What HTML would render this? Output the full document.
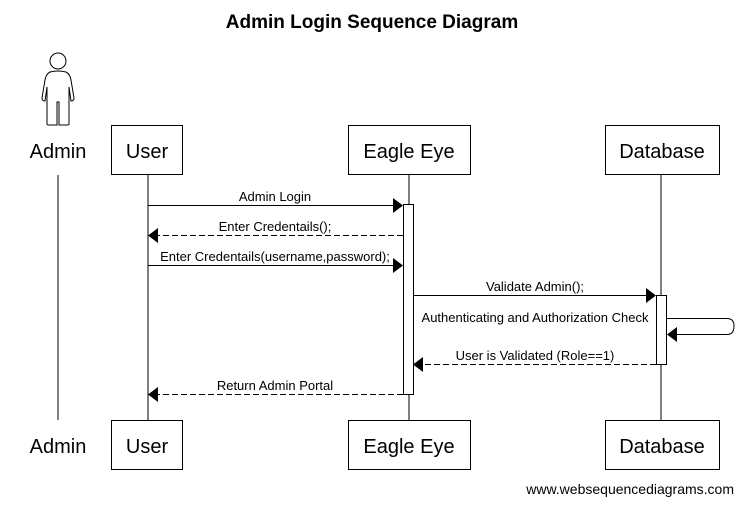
<!DOCTYPE html>
<html><head><style>body{margin:0;background:#fff}svg{display:block}</style></head><body>
<svg width="743" height="505" xmlns="http://www.w3.org/2000/svg" font-family="Liberation Sans, Arial, sans-serif">
<rect width="743" height="505" fill="#fff"/>
<text x="372" y="28" font-size="19" font-weight="bold" text-anchor="middle">Admin Login Sequence Diagram</text>
<g fill="none" stroke="#000" stroke-width="1">
<circle cx="58" cy="61" r="8"/>
<path d="M50 72 Q58 70 66 72 Q70 74 71 80 L74 98 Q74 101 71 101 L69 87 L69 124 Q69 125 67 125 L59 125 L59 102 L57 102 L57 125 L49 125 Q47 125 47 124 L47 87 L45 101 Q42 101 42 98 L45 80 Q46 74 50 72 Z"/>
<line x1="58" y1="175" x2="58" y2="420"/>
<line x1="148" y1="174" x2="148" y2="420"/>
<line x1="409" y1="174" x2="409" y2="420"/>
<line x1="661" y1="174" x2="661" y2="420"/>
<rect x="111.5" y="125.5" width="71" height="49"/>
<rect x="348.5" y="125.5" width="122" height="49"/>
<rect x="605.5" y="125.5" width="114" height="49"/>
<rect x="111.5" y="420.5" width="71" height="49"/>
<rect x="348.5" y="420.5" width="122" height="49"/>
<rect x="605.5" y="420.5" width="114" height="49"/>
<rect x="403.5" y="204.5" width="10" height="190" fill="#fff"/>
<rect x="656.5" y="295.5" width="10" height="69" fill="#fff"/>
<line x1="148" y1="205.5" x2="393" y2="205.5"/>
<line x1="403" y1="235.5" x2="158" y2="235.5" stroke-dasharray="6,3"/>
<line x1="148" y1="265.5" x2="393" y2="265.5"/>
<line x1="413" y1="295.5" x2="646" y2="295.5"/>
<path d="M667 318.5 L727 318.5 Q734 318.5 734 326 Q734 334.5 727 334.5 L676 334.5"/>
<line x1="656" y1="364.5" x2="423" y2="364.5" stroke-dasharray="6,3"/>
<line x1="403" y1="394.5" x2="158" y2="394.5" stroke-dasharray="6,3"/>
</g>
<g fill="#000">
<polygon points="393,198 403,205.5 393,213"/>
<polygon points="158,228 148,235.5 158,243"/>
<polygon points="393,258 403,265.5 393,273"/>
<polygon points="646,288 656,295.5 646,303"/>
<polygon points="677,327 667,334.5 677,342"/>
<polygon points="423,357 413,364.5 423,372"/>
<polygon points="158,387 148,394.5 158,402"/>
</g>
<g font-size="20" text-anchor="middle">
<text x="58" y="158">Admin</text><text x="147" y="158">User</text><text x="409" y="158">Eagle Eye</text><text x="662" y="158">Database</text>
<text x="58" y="453">Admin</text><text x="147" y="453">User</text><text x="409" y="453">Eagle Eye</text><text x="662" y="453">Database</text>
</g>
<g font-size="13" text-anchor="middle">
<text x="275" y="201">Admin Login</text>
<text x="275" y="231">Enter Credentails();</text>
<text x="275" y="261">Enter Credentails(username,password);</text>
<text x="535" y="291">Validate Admin();</text>
<text x="535" y="322">Authenticating and Authorization Check</text>
<text x="535" y="360">User is Validated (Role==1)</text>
<text x="275" y="390">Return Admin Portal</text>
<text x="734" y="494" font-size="14" text-anchor="end">www.websequencediagrams.com</text>
</g>
</svg>
</body></html>
